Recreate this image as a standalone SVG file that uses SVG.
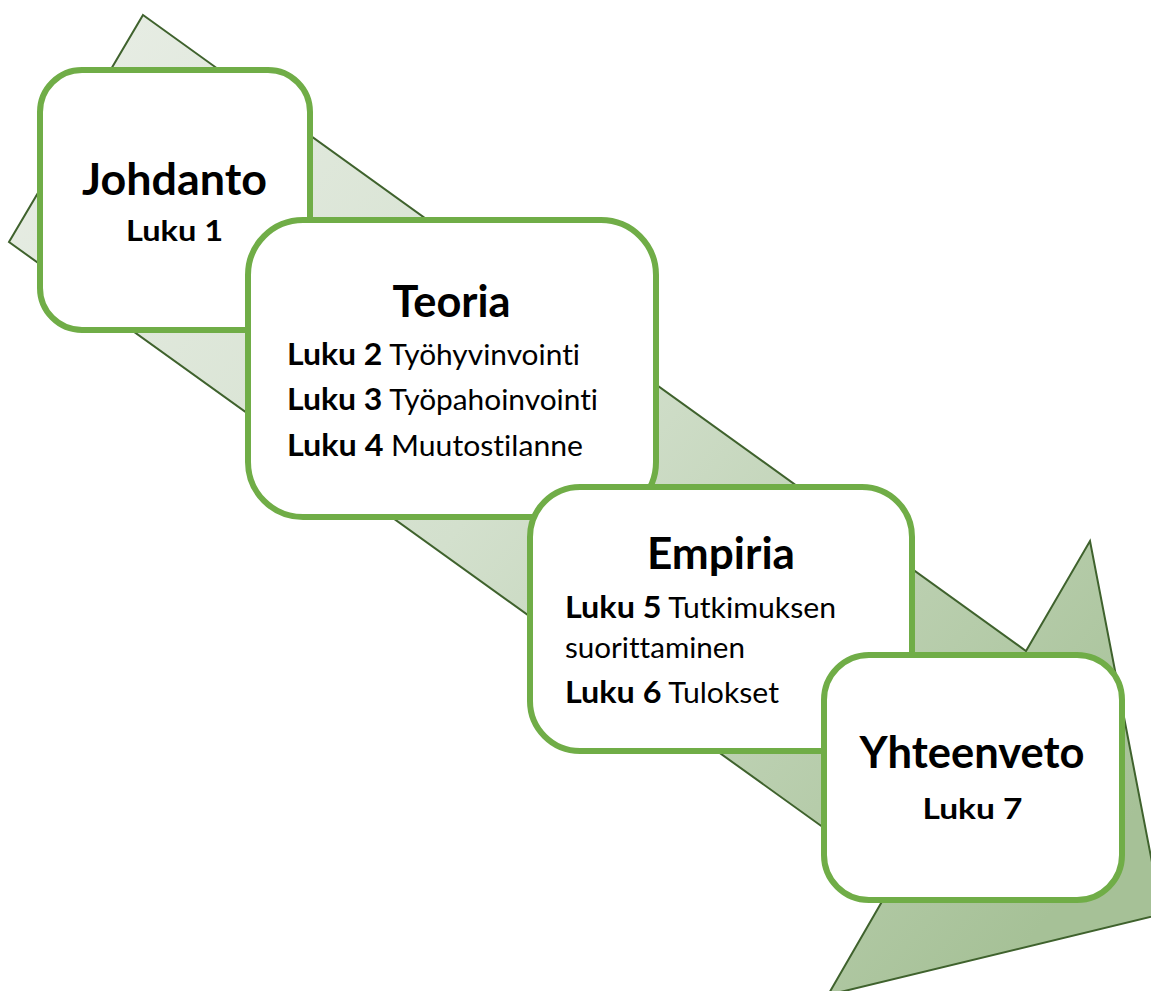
<svg xmlns="http://www.w3.org/2000/svg" width="1151" height="991" viewBox="0 0 1151 991">
  <defs>
    <linearGradient id="flowFill" gradientUnits="userSpaceOnUse" x1="100" y1="60" x2="1080" y2="880">
      <stop offset="0" stop-color="#e6ece3"/>
      <stop offset="0.45" stop-color="#d3e0cd"/>
      <stop offset="1" stop-color="#a6c197"/>
    </linearGradient>
    <style>
      .flow { fill: url(#flowFill); stroke: #3f622d; stroke-width: 2; stroke-linejoin: miter; }
      .card { fill: #ffffff; stroke: #70ad47; stroke-width: 6; }
      text { font-family: Lato, "Open Sans", "Liberation Sans", sans-serif; fill: #000000;
             font-variant-ligatures: none; font-feature-settings: "liga" 0, "clig" 0; }
      .title { font-weight: 700; font-size: 44px; text-anchor: middle; }
      .sub { font-weight: 700; font-size: 29px; text-anchor: middle; }
      .line { font-size: 28px; font-weight: 400; }
      .b { font-weight: 700; font-size: 30px; }
    </style>
  </defs>

  <!-- background flow arrow -->
  <g id="connectors">
    <polygon class="flow" points="143,15 1026,651 1090,541 1162,914 828,995 895,879 9,242"/>
  </g>

  <g id="johdanto">
    <rect class="card" x="40" y="70" width="270" height="260" rx="42" ry="42"/>
    <text class="title" x="174.5" y="195" textLength="185" lengthAdjust="spacingAndGlyphs">Johdanto</text>
    <text class="sub" x="174.5" y="241" textLength="97" lengthAdjust="spacingAndGlyphs">Luku 1</text>
  </g>

  <g id="teoria">
    <rect class="card" x="248" y="220" width="408" height="297" rx="55" ry="55"/>
    <text class="title" x="451.5" y="317" textLength="118" lengthAdjust="spacingAndGlyphs">Teoria</text>
    <text class="line" x="287" y="365" textLength="293" lengthAdjust="spacingAndGlyphs"><tspan class="b">Luku 2</tspan> Työhyvinvointi</text>
    <text class="line" x="287" y="410" textLength="311" lengthAdjust="spacingAndGlyphs"><tspan class="b">Luku 3</tspan> Työpahoinvointi</text>
    <text class="line" x="287" y="456" textLength="296" lengthAdjust="spacingAndGlyphs"><tspan class="b">Luku 4</tspan> Muutostilanne</text>
  </g>

  <g id="empiria">
    <rect class="card" x="530" y="487" width="382" height="264" rx="50" ry="50"/>
    <text class="title" x="721" y="569" textLength="148" lengthAdjust="spacingAndGlyphs">Empiria</text>
    <text class="line" x="565" y="618" textLength="271" lengthAdjust="spacingAndGlyphs"><tspan class="b">Luku 5</tspan> Tutkimuksen</text>
    <text class="line" x="565" y="658" textLength="180" lengthAdjust="spacingAndGlyphs">suorittaminen</text>
    <text class="line" x="565" y="703" textLength="214" lengthAdjust="spacingAndGlyphs"><tspan class="b">Luku 6</tspan> Tulokset</text>
  </g>

  <g id="yhteenveto">
    <rect class="card" x="824" y="655" width="298" height="245" rx="45" ry="45"/>
    <text class="title" x="972" y="768" textLength="225" lengthAdjust="spacingAndGlyphs">Yhteenveto</text>
    <text class="sub" x="972.5" y="819" textLength="100" lengthAdjust="spacingAndGlyphs">Luku 7</text>
  </g>
</svg>
